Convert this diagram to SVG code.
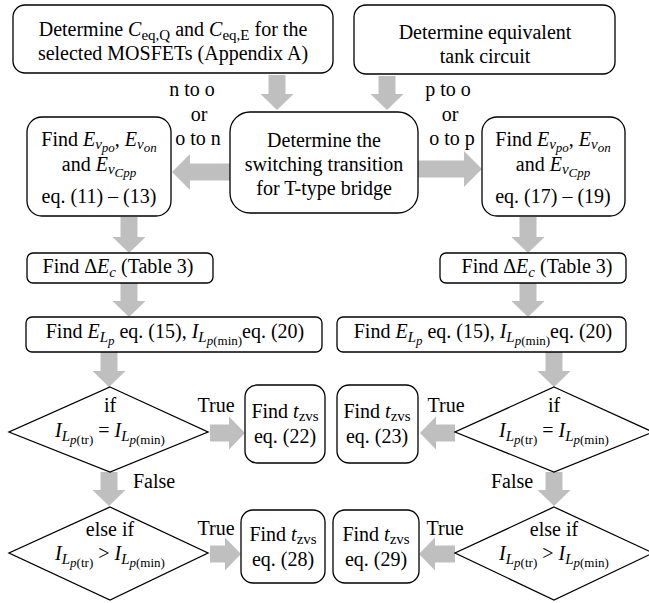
<svg xmlns="http://www.w3.org/2000/svg" width="649" height="603" viewBox="0 0 649 603">
<style>
text{font-family:"Liberation Serif","Times New Roman",serif;font-size:20px;fill:#000;text-anchor:middle}
.i{font-style:italic}
.s1{font-size:15px}
.s2{font-size:13px}
.box{fill:#fff;stroke:#000;stroke-width:1.3}
.arr{fill:#bfbfbf;stroke:none}
</style>
<rect width="649" height="603" fill="#fff"/>
<g id="connectors">
<path class="arr" d="M268.5 75H285.5V94H293.5L277 110L260.5 94H268.5Z"/>
<path class="arr" d="M378.5 76H395.5V94H403.5L387 110L370.5 94H378.5Z"/>
<path class="arr" d="M230 163.5V180.5H190V190L172 172L190 154V163.5Z"/>
<path class="arr" d="M418 160.5H464V151L482 169L464 187V177.5H418Z"/>
<path class="arr" d="M120.5 217H137.5V237H145.5L129 253L112.5 237H120.5Z"/>
<path class="arr" d="M519.5 217H536.5V237H544.5L528 253L511.5 237H519.5Z"/>
<path class="arr" d="M120.5 283H137.5V301H145.5L129 317L112.5 301H120.5Z"/>
<path class="arr" d="M519.5 283H536.5V301H544.5L528 317L511.5 301H519.5Z"/>
<path class="arr" d="M100.5 352H117.5V371H125.5L109 387L92.5 371H100.5Z"/>
<path class="arr" d="M545.5 352H562.5V371H570.5L554 387L537.5 371H545.5Z"/>
<path class="arr" d="M210 424.5H229V416.5L245 433L229 449.5V441.5H210Z"/>
<path class="arr" d="M455 424.5H436V416.5L420 433L436 449.5V441.5H455Z"/>
<path class="arr" d="M100.5 472H117.5V490H125.5L109 506L92.5 490H100.5Z"/>
<path class="arr" d="M545.5 472H562.5V490H570.5L554 506L537.5 490H545.5Z"/>
<path class="arr" d="M210 545.5H225V537.5L241 554L225 570.5V562.5H210Z"/>
<path class="arr" d="M455 545.5H435V537.5L419 554L435 570.5V562.5H455Z"/>
<text x="192" y="96">n to o</text>
<text x="199" y="121">or</text>
<text x="198" y="145">o to n</text>
<text x="448" y="96">p to o</text>
<text x="450" y="121">or</text>
<text x="452" y="145">o to p</text>
<text x="216" y="412">True</text>
<text x="446" y="412">True</text>
<text x="154" y="488">False</text>
<text x="512" y="488">False</text>
<text x="216" y="535">True</text>
<text x="445" y="535">True</text>
</g>
<g id="nodeA">
<rect class="box" x="13" y="5" width="320" height="68" rx="12"/>
<text x="173" y="36">Determine <tspan class="i">C</tspan><tspan class="s1" dy="4">eq,Q</tspan><tspan dy="-4"> and </tspan><tspan class="i">C</tspan><tspan class="s1" dy="4">eq,E</tspan><tspan dy="-4"> for the</tspan></text>
<text x="173" y="60">selected MOSFETs (Appendix A)</text>
</g>
<g id="nodeB">
<rect class="box" x="354" y="5" width="261" height="69" rx="12"/>
<text x="485" y="39">Determine equivalent</text>
<text x="485" y="63">tank circuit</text>
</g>
<g id="nodeC">
<rect class="box" x="230" y="112" width="188" height="101" rx="20"/>
<text x="324" y="147">Determine the</text>
<text x="324" y="171">switching transition</text>
<text x="324" y="195">for T-type bridge</text>
</g>
<g id="nodeD">
<rect class="box" x="27" y="117" width="144" height="99" rx="15"/>
<text x="99" y="146">Find <tspan class="i">E</tspan><tspan class="s1 i" dy="3">v</tspan><tspan class="s2 i" dy="3">po</tspan><tspan dy="-6">, </tspan><tspan class="i">E</tspan><tspan class="s1 i" dy="3">v</tspan><tspan class="s2 i" dy="3">on</tspan></text>
<text x="99" y="171">and <tspan class="i">E</tspan><tspan class="s1 i" dy="3">v</tspan><tspan class="s2 i" dy="3">Cpp</tspan></text>
<text x="99" y="203">eq. (11) – (13)</text>
</g>
<g id="nodeE">
<rect class="box" x="482" y="117" width="143" height="99" rx="15"/>
<text x="553" y="146">Find <tspan class="i">E</tspan><tspan class="s1 i" dy="3">v</tspan><tspan class="s2 i" dy="3">po</tspan><tspan dy="-6">, </tspan><tspan class="i">E</tspan><tspan class="s1 i" dy="3">v</tspan><tspan class="s2 i" dy="3">on</tspan></text>
<text x="553" y="171">and <tspan class="i">E</tspan><tspan class="s1 i" dy="3">v</tspan><tspan class="s2 i" dy="3">Cpp</tspan></text>
<text x="553" y="203">eq. (17) – (19)</text>
</g>
<g id="nodeF1">
<rect class="box" x="27" y="253" width="186" height="30" rx="6"/>
<text x="118" y="273">Find Δ<tspan class="i">E</tspan><tspan class="s1 i" dy="4">c</tspan><tspan dy="-4"> (Table 3)</tspan></text>
</g>
<g id="nodeF2">
<rect class="box" x="440" y="253" width="186" height="30" rx="6"/>
<text x="537" y="273">Find Δ<tspan class="i">E</tspan><tspan class="s1 i" dy="4">c</tspan><tspan dy="-4"> (Table 3)</tspan></text>
</g>
<g id="nodeG1">
<rect class="box" x="26" y="317" width="296" height="35" rx="6"/>
<text x="175" y="338">Find <tspan class="i">E</tspan><tspan class="s1 i" dy="4">L</tspan><tspan class="s2 i" dy="3">p</tspan><tspan dy="-7"> eq. (15), </tspan><tspan class="i">I</tspan><tspan class="s1 i" dy="4">L</tspan><tspan class="s2" dy="3"><tspan class="i">p</tspan>(min)</tspan><tspan dy="-7">eq. (20)</tspan></text>
</g>
<g id="nodeG2">
<rect class="box" x="337" y="317" width="289" height="35" rx="6"/>
<text x="483" y="338">Find <tspan class="i">E</tspan><tspan class="s1 i" dy="4">L</tspan><tspan class="s2 i" dy="3">p</tspan><tspan dy="-7"> eq. (15), </tspan><tspan class="i">I</tspan><tspan class="s1 i" dy="4">L</tspan><tspan class="s2" dy="3"><tspan class="i">p</tspan>(min)</tspan><tspan dy="-7">eq. (20)</tspan></text>
</g>
<g id="nodeH1">
<polygon class="box" points="110,387 208,432 110,472 9,432"/>
<text x="110" y="412">if</text>
<text x="110" y="437"><tspan class="i">I</tspan><tspan class="s1 i" dy="4">L</tspan><tspan class="s2" dy="3"><tspan class="i">p</tspan>(tr)</tspan><tspan dy="-7"> = </tspan><tspan class="i">I</tspan><tspan class="s1 i" dy="4">L</tspan><tspan class="s2" dy="3"><tspan class="i">p</tspan>(min)</tspan></text>
</g>
<g id="nodeH2">
<polygon class="box" points="554,387 653,432 554,472 455,432"/>
<text x="554" y="412">if</text>
<text x="554" y="437"><tspan class="i">I</tspan><tspan class="s1 i" dy="4">L</tspan><tspan class="s2" dy="3"><tspan class="i">p</tspan>(tr)</tspan><tspan dy="-7"> = </tspan><tspan class="i">I</tspan><tspan class="s1 i" dy="4">L</tspan><tspan class="s2" dy="3"><tspan class="i">p</tspan>(min)</tspan></text>
</g>
<g id="nodeJ1">
<rect class="box" x="245" y="385" width="80" height="78" rx="12"/>
<text x="285" y="418">Find <tspan class="i">t</tspan><tspan class="s1" dy="3">zvs</tspan></text>
<text x="285" y="443">eq. (22)</text>
</g>
<g id="nodeJ2">
<rect class="box" x="337" y="385" width="81" height="78" rx="12"/>
<text x="377" y="418">Find <tspan class="i">t</tspan><tspan class="s1" dy="3">zvs</tspan></text>
<text x="377" y="443">eq. (23)</text>
</g>
<g id="nodeK1">
<polygon class="box" points="110,507 208,553 110,600 9,553"/>
<text x="110" y="536">else if</text>
<text x="110" y="560"><tspan class="i">I</tspan><tspan class="s1 i" dy="4">L</tspan><tspan class="s2" dy="3"><tspan class="i">p</tspan>(tr)</tspan><tspan dy="-7"> &gt; </tspan><tspan class="i">I</tspan><tspan class="s1 i" dy="4">L</tspan><tspan class="s2" dy="3"><tspan class="i">p</tspan>(min)</tspan></text>
</g>
<g id="nodeK2">
<polygon class="box" points="554,507 653,553 554,600 455,553"/>
<text x="554" y="536">else if</text>
<text x="554" y="560"><tspan class="i">I</tspan><tspan class="s1 i" dy="4">L</tspan><tspan class="s2" dy="3"><tspan class="i">p</tspan>(tr)</tspan><tspan dy="-7"> &gt; </tspan><tspan class="i">I</tspan><tspan class="s1 i" dy="4">L</tspan><tspan class="s2" dy="3"><tspan class="i">p</tspan>(min)</tspan></text>
</g>
<g id="nodeL1">
<rect class="box" x="241" y="510" width="84" height="73" rx="12"/>
<text x="283" y="541">Find <tspan class="i">t</tspan><tspan class="s1" dy="3">zvs</tspan></text>
<text x="283" y="566">eq. (28)</text>
</g>
<g id="nodeL2">
<rect class="box" x="333" y="510" width="86" height="73" rx="12"/>
<text x="376" y="541">Find <tspan class="i">t</tspan><tspan class="s1" dy="3">zvs</tspan></text>
<text x="376" y="566">eq. (29)</text>
</g>
</svg>
